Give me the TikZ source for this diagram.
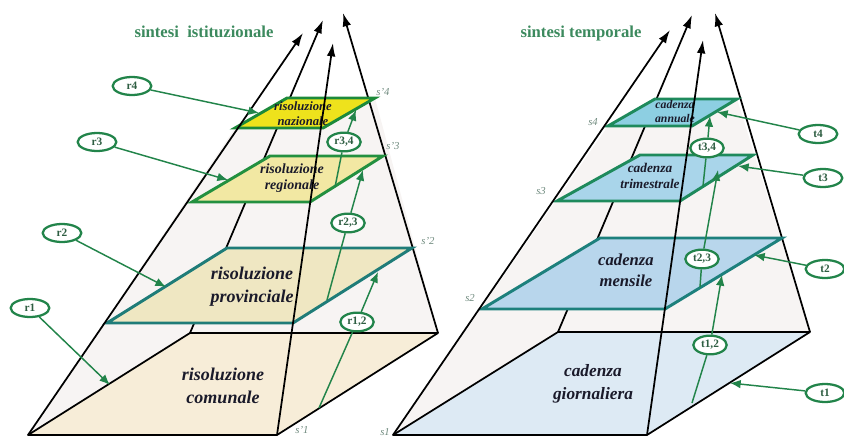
\documentclass[tikz,border=0pt]{standalone}
\usepackage{fontspec}
\setmainfont{Liberation Serif}
\usetikzlibrary{shapes.geometric,arrows.meta}
\definecolor{facefill}{HTML}{F7F4F3}
\definecolor{lbase}{HTML}{F7EDD8}
\definecolor{rbase}{HTML}{DDEAF4}
\definecolor{provfill}{HTML}{EFE7C2}
\definecolor{provline}{HTML}{1F7C78}
\definecolor{regfill}{HTML}{F2E8A3}
\definecolor{regline}{HTML}{23903F}
\definecolor{nazfill}{HTML}{EEE21C}
\definecolor{nazline}{HTML}{1C8A3A}
\definecolor{mensfill}{HTML}{B8D6EC}
\definecolor{mensline}{HTML}{1D807C}
\definecolor{trimfill}{HTML}{A9D5EA}
\definecolor{trimline}{HTML}{1E8A5C}
\definecolor{annfill}{HTML}{8DCFE2}
\definecolor{annline}{HTML}{1E8A5C}
\definecolor{agreen}{HTML}{22844A}
\definecolor{ltext}{HTML}{2E5E42}
\definecolor{tgreen}{HTML}{3C8A5E}
\definecolor{sgray}{HTML}{6F8A7E}
\definecolor{dtext}{HTML}{1A1A2A}
\tikzset{
  pedge/.style={line width=1.3pt, black, -{Latex[length=10pt,width=6.5pt]}},
  bedge/.style={line width=1.3pt, black, line join=round},
  slab/.style={line width=2.2pt, line join=miter},
  garrow/.style={draw=agreen, line width=1.1pt, -{Latex[length=8pt,width=6.5pt]}},
  gline/.style={draw=agreen, line width=1.1pt},
  lab/.style={ellipse, draw=agreen, line width=1.7pt, fill=white, inner sep=0pt,
    minimum width=29pt, minimum height=13.5pt, font=\bfseries\fontsize{8.5}{9}\selectfont, text=ltext},
  slabtext/.style={align=center, text=dtext, font=\bfseries\itshape},
  slabel/.style={text=sgray, font=\itshape\fontsize{8}{8}\selectfont},
  ttl/.style={text=tgreen, font=\bfseries\fontsize{12.5}{14}\selectfont}
}
\begin{document}
\begin{tikzpicture}[x=0.75pt,y=-0.75pt]
\useasboundingbox (0,0) rectangle (844,436);
% ---------- left pyramid coordinates ----------
\coordinate (A1) at (28,435); \coordinate (A2) at (277,435);
\coordinate (A3) at (438,333); \coordinate (A4) at (190,333);
\coordinate (LFL) at (303,33); \coordinate (LBL) at (323,20);
\coordinate (LFR) at (333,43); \coordinate (LBR) at (343,13);
\coordinate (N1) at (235,128); \coordinate (N2) at (323,128);
\coordinate (N3) at (375,98);  \coordinate (N4) at (287,98);
\coordinate (R1) at (192,202); \coordinate (R2) at (310,202);
\coordinate (R3) at (383,156); \coordinate (R4) at (270,156);
\coordinate (P1) at (107,323); \coordinate (P2) at (293,323);
\coordinate (P3) at (412,248); \coordinate (P4) at (227,248);
% ---------- right pyramid coordinates ----------
\coordinate (B1) at (393,435); \coordinate (B2) at (647,435);
\coordinate (B3) at (810,332); \coordinate (B4) at (558,332);
\coordinate (RFL) at (670,30); \coordinate (RBL) at (692,15);
\coordinate (RFR) at (703,40); \coordinate (RBR) at (715,13);
\coordinate (U1) at (608,126); \coordinate (U2) at (692,126);
\coordinate (U3) at (737,99);  \coordinate (U4) at (655,99);
\coordinate (T1) at (557,201); \coordinate (T2) at (680,201);
\coordinate (T3) at (753,155); \coordinate (T4) at (640,155);
\coordinate (M1) at (482,309); \coordinate (M2) at (665,309);
\coordinate (M3) at (782,238); \coordinate (M4) at (600,238);
% ---------- faces ----------
\fill[facefill] (A1) -- (N1) -- (N4) -- (N3) -- (A3) -- (A2) -- cycle;
\fill[facefill] (B1) -- (U1) -- (U4) -- (U3) -- (B3) -- (B2) -- cycle;
\filldraw[bedge, fill=lbase] (A1) -- (A2) -- (A3) -- (A4) -- cycle;
\filldraw[bedge, fill=rbase] (B1) -- (B2) -- (B3) -- (B4) -- cycle;
% ---------- back edges ----------
\draw[pedge] (A4) -- (LBL);
\draw[pedge] (A3) -- (LBR);
\draw[pedge] (B4) -- (RBL);
\draw[pedge] (B3) -- (RBR);
% ---------- slabs ----------
\filldraw[slab, fill=provfill, draw=provline] (P1) -- (P2) -- (P3) -- (P4) -- cycle;
\filldraw[slab, fill=regfill, draw=regline] (R1) -- (R2) -- (R3) -- (R4) -- cycle;
\filldraw[slab, fill=nazfill, draw=nazline] (N1) -- (N2) -- (N3) -- (N4) -- cycle;
\filldraw[slab, fill=mensfill, draw=mensline] (M1) -- (M2) -- (M3) -- (M4) -- cycle;
\filldraw[slab, fill=trimfill, draw=trimline] (T1) -- (T2) -- (T3) -- (T4) -- cycle;
\filldraw[slab, fill=annfill, draw=annline] (U1) -- (U2) -- (U3) -- (U4) -- cycle;
% ---------- slab texts ----------
\node[slabtext, font=\bfseries\itshape\fontsize{13.5}{17}\selectfont] (tcom) at (223,386) {risoluzione\\comunale};
\node[slabtext, font=\bfseries\itshape\fontsize{13.5}{17}\selectfont] (tprov) at (252,287) {risoluzione\\provinciale};
\node[slabtext, font=\bfseries\itshape\fontsize{10.5}{12.5}\selectfont] (treg) at (292,178) {risoluzione\\regionale};
\node[slabtext, font=\bfseries\itshape\fontsize{9.5}{11}\selectfont] (tnaz) at (303,114) {risoluzione\\nazionale};
\node[slabtext, font=\bfseries\itshape\fontsize{13}{17}\selectfont] (tgio) at (593,384) {cadenza\\giornaliera};
\node[slabtext, font=\bfseries\itshape\fontsize{12.5}{16}\selectfont] (tmen) at (626,270) {cadenza\\mensile};
\node[slabtext, font=\bfseries\itshape\fontsize{10}{12.5}\selectfont] (ttri) at (650,176) {cadenza\\trimestrale};
\node[slabtext, font=\bfseries\itshape\fontsize{8.8}{10.5}\selectfont] (tann) at (675,111) {cadenza\\annuale};
% ---------- front edges ----------
\draw[pedge] (A1) -- (LFL);
\draw[pedge] (A2) -- (LFR);
\draw[pedge] (B1) -- (RFL);
\draw[pedge] (B2) -- (RFR);
% ---------- labels s ----------
\node[slabel] (sp4) at (383,92) {s'4};
\node[slabel] (sp3) at (393,146) {s'3};
\node[slabel] (sp2) at (428,241) {s'2};
\node[slabel] (sp1) at (302,430) {s'1};
\node[slabel] (s4) at (593,122) {s4};
\node[slabel] (s3) at (541,191) {s3};
\node[slabel] (s2) at (470,298) {s2};
\node[slabel] (s1) at (385,432) {s1};
% ---------- titles ----------
\node[ttl] (title1) at (204,32) {sintesi\ \ istituzionale};
\node[ttl] (title2) at (581,33) {sintesi temporale};
% ---------- ellipses ----------
\node[lab] (r4) at (132,86) {r4};
\node[lab] (r3) at (97,142) {r3};
\node[lab] (r2) at (62,233) {r2};
\node[lab] (r1) at (30,308) {r1};
\node[lab, minimum width=25pt, minimum height=14pt] (r34) at (344,142) {r3,4};
\node[lab, minimum width=25pt, minimum height=14pt] (r23) at (348,223) {r2,3};
\node[lab, minimum width=25pt, minimum height=14pt] (r12) at (357,322) {r1,2};
\node[lab] (t4) at (818,134) {t4};
\node[lab] (t3) at (823,178) {t3};
\node[lab] (t2) at (825,269) {t2};
\node[lab] (t1) at (825,393) {t1};
\node[lab, minimum width=25pt, minimum height=14pt] (t34) at (707,148) {t3,4};
\node[lab, minimum width=25pt, minimum height=14pt] (t23) at (702,259) {t2,3};
\node[lab, minimum width=25pt, minimum height=14pt] (t12) at (710,345) {t1,2};
% ---------- green arrows ----------
\coordinate (ar4) at (259,113); \coordinate (ar3) at (228,180);
\coordinate (ar2) at (166,287); \coordinate (ar1) at (110,385);
\coordinate (sr12) at (319,408); \coordinate (ar12) at (378,272);
\coordinate (sr23) at (327,300); \coordinate (ar23) at (363,170);
\coordinate (sr34) at (335,187); \coordinate (ar34) at (356,110);
\coordinate (at4) at (717,112); \coordinate (at3) at (738,166);
\coordinate (at2) at (754,255); \coordinate (at1) at (730,383);
\coordinate (st12) at (692,403); \coordinate (at12) at (722,275);
\coordinate (st23) at (700,287); \coordinate (at23) at (718,170);
\coordinate (st34) at (703,186); \coordinate (at34) at (710,116);
\draw[garrow] (r4) -- (ar4);
\draw[garrow] (r3) -- (ar3);
\draw[garrow] (r2) -- (ar2);
\draw[garrow] (r1) -- (ar1);
\draw[gline] (sr12) -- (r12); \draw[garrow] (r12) -- (ar12);
\draw[gline] (sr23) -- (r23); \draw[garrow] (r23) -- (ar23);
\draw[gline] (sr34) -- (r34); \draw[garrow] (r34) -- (ar34);
\draw[garrow] (t4) -- (at4);
\draw[garrow] (t3) -- (at3);
\draw[garrow] (t2) -- (at2);
\draw[garrow] (t1) -- (at1);
\draw[gline] (st12) -- (t12); \draw[garrow] (t12) -- (at12);
\draw[gline] (st23) -- (t23); \draw[garrow] (t23) -- (at23);
\draw[gline] (st34) -- (t34); \draw[garrow] (t34) -- (at34);
\end{tikzpicture}
\end{document}
